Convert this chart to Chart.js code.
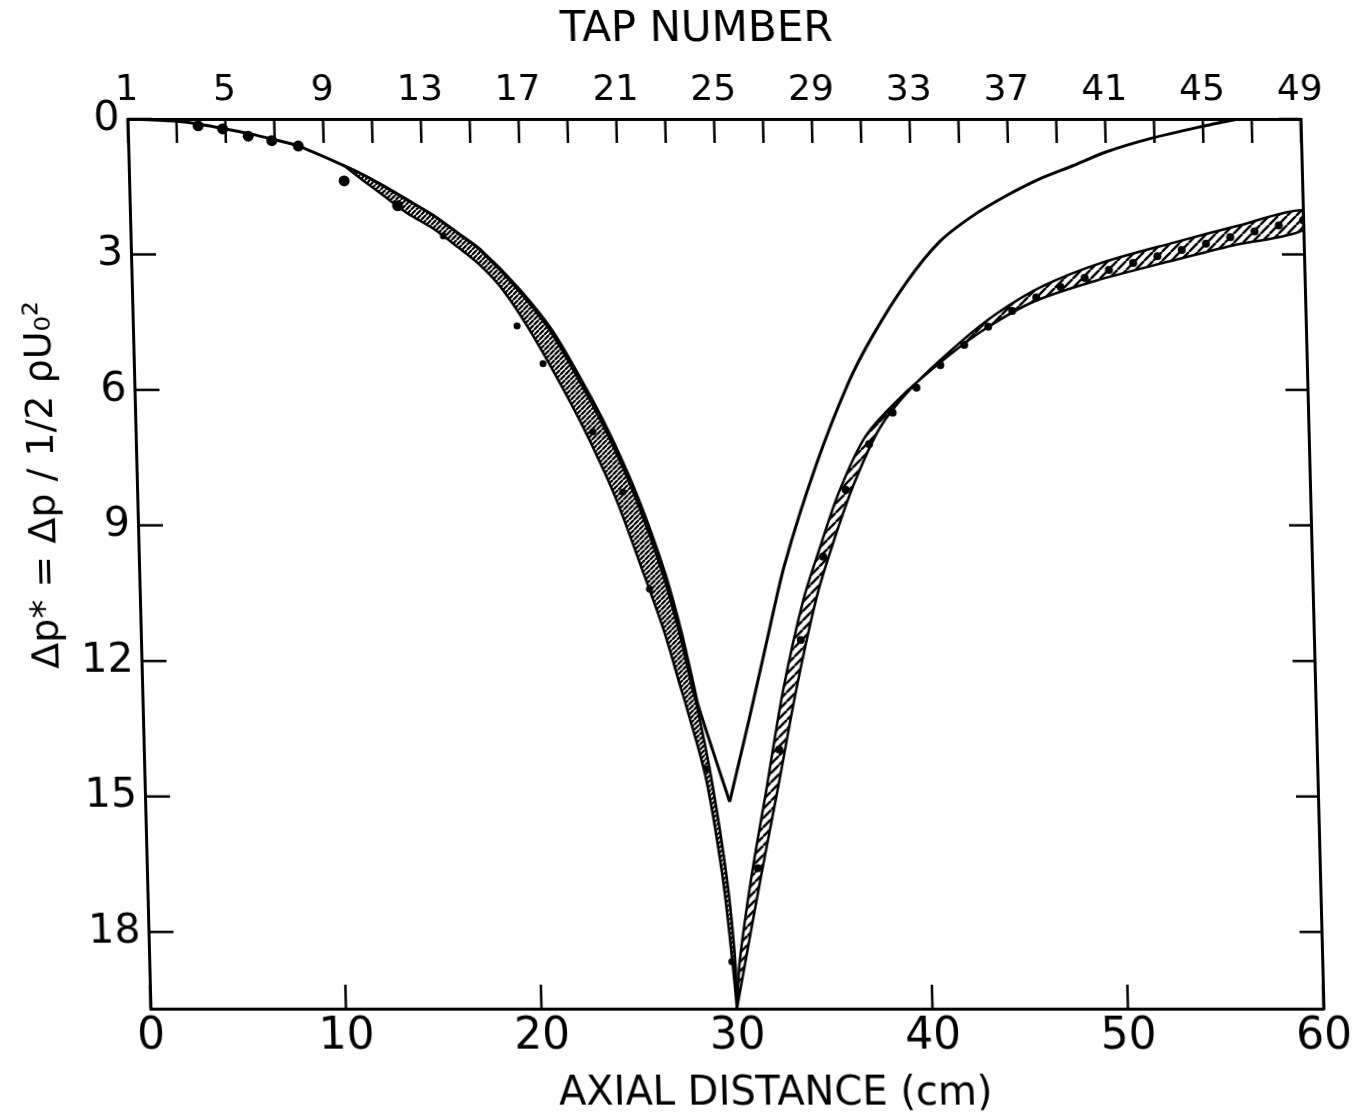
<!DOCTYPE html>
<html>
<head>
<meta charset="utf-8">
<style>
  html, body { margin: 0; padding: 0; background: #ffffff; overflow: hidden; }
  /* the scanned original is slightly sheared: its left/right frame edges lean ~1.5 degrees */
  #c { display: block; transform: skewX(1.478deg); transform-origin: 677px 564px; }
</style>
<script src="https://cdn.jsdelivr.net/npm/chart.js@4.4.0/dist/chart.umd.min.js"></script>
</head>
<body>
<canvas id="c" width="1354" height="1119" style="width:1354px;height:1119px"></canvas>
<script>
// ---------------- data ----------------
const xTickValues = [0, 10, 20, 30, 40, 50, 60];
const yTickValues = [0, 3, 6, 9, 12, 15, 18];
const tapTickPositionsCm = [0, 2.5, 5, 7.5, 10, 12.5, 15, 17.5, 20, 22.5, 25, 27.5, 30,
                            32.5, 35, 37.5, 40, 42.5, 45, 47.5, 50, 52.5, 55, 57.5, 60];
const tapLabelPositionsCm = [0, 5, 10, 15, 20, 25, 30, 35, 40, 45, 50, 55, 60];
const tapLabels = ['1', '5', '9', '13', '17', '21', '25', '29', '33', '37', '41', '45', '49'];

const xTitle = 'AXIAL DISTANCE (cm)';
const topTitle = 'TAP NUMBER';
const yTitle = 'Δp* = Δp / 1/2 ρU₀²';

// thin solid curve: left branch (down to its cusp) and right branch (back up to 0)
const curveLeftX  = [0, 2.5, 3.75, 5.0, 6.25, 7.5, 8.65, 11.0, 12.0, 13.0, 14.2, 15.5, 16.7, 17.9, 19.8, 21.5, 23.38, 24.4, 25.6, 26.85, 27.65, 28.2, 28.42, 29.9];
const curveLeftY  = [0, 0.05, 0.12, 0.22, 0.33, 0.46, 0.59, 1.03, 1.24, 1.48, 1.79, 2.13, 2.51, 2.90, 3.76, 4.72, 6.20, 7.12, 8.38, 10.0, 11.36, 12.52, 12.99, 15.12];
const curveRightX = [29.9, 31.0, 31.95, 33.0, 34.75, 36.55, 37.83, 39.64, 41.37, 43.09, 44.85, 46.56, 48.26, 50.01, 52.24, 54.8, 56.8];
const curveRightY = [15.12, 13.3, 11.67, 9.9, 7.68, 5.82, 4.8, 3.61, 2.72, 2.15, 1.7, 1.33, 1.04, 0.73, 0.44, 0.18, 0];

// hatched band, upstream side (its two edges)
const leftBandOuterX = [11.0, 12.0, 13.0, 14.2, 15.5, 16.7, 17.85, 19.0, 20.35, 22.19, 23.22, 24.46, 25.75, 26.78, 27.5, 27.8, 28.72, 29.45, 29.83, 30.0];
const leftBandOuterY = [1.03, 1.37, 1.70, 2.09, 2.43, 2.83, 3.24, 3.80, 4.72, 6.20, 7.12, 8.38, 10.0, 11.36, 12.52, 12.99, 14.61, 16.83, 18.67, 19.7];
const leftBandInnerX = [11.0, 12.0, 13.0, 14.2, 15.5, 16.7, 17.85, 19.7, 21.38, 23.25, 24.28, 25.48, 26.73, 27.54, 28.1, 28.35, 29.0, 29.66, 29.98, 30.0];
const leftBandInnerY = [1.03, 1.24, 1.48, 1.79, 2.13, 2.51, 2.90, 3.76, 4.72, 6.20, 7.12, 8.38, 10.0, 11.36, 12.52, 12.99, 14.61, 16.83, 18.67, 19.7];

// hatched band, downstream side (its two edges)
const rightBandLowerX = [30.0, 30.20, 30.89, 31.82, 32.78, 33.92, 34.82, 35.91, 37.34, 39.18, 41.72, 43.73, 46.14, 49.33, 53.14, 56.38, 60.0];
const rightBandLowerY = [19.7, 18.67, 16.84, 14.79, 12.65, 10.67, 9.53, 8.25, 7.02, 6.16, 5.23, 4.61, 4.04, 3.58, 3.15, 2.80, 2.46];
const rightBandUpperX = [30.0, 30.50, 31.39, 32.42, 33.48, 34.62, 35.50, 36.63, 38.06, 39.80, 42.29, 44.27, 46.60, 49.67, 53.42, 56.62, 60.0];
const rightBandUpperY = [19.7, 18.65, 16.80, 14.75, 12.59, 10.59, 9.43, 8.13, 6.85, 5.93, 4.95, 4.29, 3.70, 3.18, 2.73, 2.37, 2.02];

// measured points (tap readings)
const measuredUpX = [3.6, 4.85, 6.15, 7.35, 8.7, 11.0, 13.7];
const measuredUpY = [0.15, 0.22, 0.38, 0.48, 0.6, 1.37, 1.92];
const measuredBandLeftX = [16.0, 19.65, 20.93, 23.39, 24.84, 26.08, 28.79, 29.8];
const measuredBandLeftY = [2.59, 4.58, 5.42, 6.93, 8.26, 10.41, 14.39, 18.66];
const measuredDownX = [31.25, 32.5, 33.75, 35.0, 36.25, 37.5, 38.75, 40.0, 41.25, 42.5, 43.75, 45.0,
                       46.25, 47.5, 48.75, 50.0, 51.25, 52.5, 53.75, 55.0, 56.25, 57.5, 58.75, 60.0];
const measuredDownY = [16.59, 13.96, 11.54, 9.69, 8.21, 7.2, 6.5, 5.95, 5.45, 5.0, 4.6, 4.25,
                       3.95, 3.72, 3.52, 3.34, 3.19, 3.04, 2.9, 2.76, 2.62, 2.49, 2.36, 2.24];

// ---------------- helpers ----------------
const zip = (xs, ys) => xs.map((x, i) => ({ x: x, y: ys[i] }));
const closedShape = (ax, ay, bx, by) => zip(ax, ay).concat(zip(bx, by).reverse());

const FONT = '"DejaVu Sans", "Liberation Sans", sans-serif';
const canvas = document.getElementById('c');
const ctx = canvas.getContext('2d');

function hatch(size, lw) {
  const c = document.createElement('canvas');
  c.width = size; c.height = size;
  const g = c.getContext('2d');
  g.fillStyle = '#ffffff'; g.fillRect(0, 0, size, size);
  g.strokeStyle = '#000000'; g.lineWidth = lw;
  g.beginPath();
  for (const k of [-1, 0, 1]) { g.moveTo(k * size, size); g.lineTo(k * size + size, 0); }
  g.stroke();
  return ctx.createPattern(c, 'repeat');
}
const leftHatch = hatch(5, 2.2);
const rightHatch = hatch(9, 2.4);

// inward tick marks on all four sides, placed by the chart's own scales
const inwardTicks = {
  id: 'inwardTicks',
  afterDatasetsDraw(chart) {
    const c = chart.ctx, a = chart.chartArea, s = chart.scales;
    c.save();
    c.strokeStyle = '#000';
    c.lineWidth = 2.5;
    c.beginPath();
    for (const v of tapTickPositionsCm) {
      const px = s.xTop.getPixelForValue(v);
      c.moveTo(px, a.top); c.lineTo(px, a.top + 24);
    }
    for (const v of xTickValues) {
      const px = s.x.getPixelForValue(v);
      c.moveTo(px, a.bottom); c.lineTo(px, a.bottom - 24);
    }
    for (const v of yTickValues) {
      const pl = s.y.getPixelForValue(v);
      c.moveTo(a.left, pl); c.lineTo(a.left + 25, pl);
      const pr = s.yRight.getPixelForValue(v);
      c.moveTo(a.right, pr); c.lineTo(a.right - 22, pr);
    }
    c.stroke();
    c.restore();
  }
};

const titlesPlugin = {
  id: 'figureTitles',
  afterDraw(chart) {
    const c = chart.ctx;
    c.save();
    c.fillStyle = '#000';
    c.textAlign = 'center';
    c.textBaseline = 'middle';
    c.font = '42px ' + FONT;
    c.fillText(topTitle, 710, 30);
    c.font = '40px ' + FONT;
    c.fillText(xTitle, 762, 1095);
    c.translate(46, 485);
    c.rotate(-Math.PI / 2);
    c.font = '38px ' + FONT;
    c.fillText(yTitle, 0, 0);
    c.restore();
  }
};

const lineDs = (data, w) => ({
  data: data, showLine: true, fill: false, borderColor: '#000', borderWidth: w,
  pointRadius: 0, tension: 0.25, order: 1
});
const pointDs = (data, r) => ({
  data: data, showLine: false, pointRadius: r, pointBackgroundColor: '#000',
  pointBorderColor: '#000', pointBorderWidth: 0, order: 0
});
const noGrid = { display: false, drawTicks: false, tickLength: 0 };
const frame = { display: true, color: '#000', width: 3 };

new Chart(ctx, {
  type: 'scatter',
  data: {
    datasets: [
      { data: closedShape(leftBandOuterX, leftBandOuterY, leftBandInnerX, leftBandInnerY),
        showLine: true, fill: 'shape', backgroundColor: leftHatch, borderColor: '#000',
        borderWidth: 2.5, pointRadius: 0, tension: 0.3, order: 2 },
      { data: closedShape(rightBandLowerX, rightBandLowerY, rightBandUpperX, rightBandUpperY),
        showLine: true, fill: 'shape', backgroundColor: rightHatch, borderColor: '#000',
        borderWidth: 2.5, pointRadius: 0, tension: 0.3, order: 2 },
      lineDs(zip(curveLeftX, curveLeftY), 3),
      lineDs(zip(curveRightX, curveRightY), 3),
      pointDs(zip(measuredUpX, measuredUpY), 5.5),
      pointDs(zip(measuredBandLeftX, measuredBandLeftY), 3.5),
      pointDs(zip(measuredDownX, measuredDownY), 4)
    ]
  },
  options: {
    responsive: false,
    animation: false,
    devicePixelRatio: 1,
    layout: { padding: 0 },
    plugins: { legend: { display: false }, tooltip: { enabled: false } },
    scales: {
      x: {
        type: 'linear', position: 'bottom', min: 0, max: 60,
        afterBuildTicks: s => { s.ticks = xTickValues.map(v => ({ value: v })); },
        afterFit: s => { s.height = 110; },
        grid: noGrid, border: frame,
        ticks: { color: '#000', font: { family: FONT, size: 44 }, padding: 2, maxRotation: 0, minRotation: 0, autoSkip: false }
      },
      xTop: {
        type: 'linear', position: 'top', min: 0, max: 60,
        afterBuildTicks: s => { s.ticks = tapLabelPositionsCm.map(v => ({ value: v })); },
        afterFit: s => { s.height = 119; },
        grid: noGrid, border: frame,
        ticks: {
          color: '#000', font: { family: FONT, size: 36 }, padding: 7, maxRotation: 0, minRotation: 0, autoSkip: false,
          callback: v => { const i = tapLabelPositionsCm.indexOf(v); return i >= 0 ? tapLabels[i] : ''; }
        }
      },
      y: {
        type: 'linear', position: 'left', min: 0, max: 19.7, reverse: true,
        afterBuildTicks: s => { s.ticks = yTickValues.map(v => ({ value: v })); },
        afterFit: s => { s.width = 139; },
        grid: noGrid, border: frame,
        ticks: { color: '#000', font: { family: FONT, size: 41 }, padding: 8, autoSkip: false }
      },
      yRight: {
        type: 'linear', position: 'right', min: 0, max: 19.7, reverse: true,
        afterBuildTicks: s => { s.ticks = yTickValues.map(v => ({ value: v })); },
        afterFit: s => { s.width = 42; },
        grid: noGrid, border: frame,
        ticks: { display: false }
      }
    }
  },
  plugins: [inwardTicks, titlesPlugin]
});
</script>
</body>
</html>
